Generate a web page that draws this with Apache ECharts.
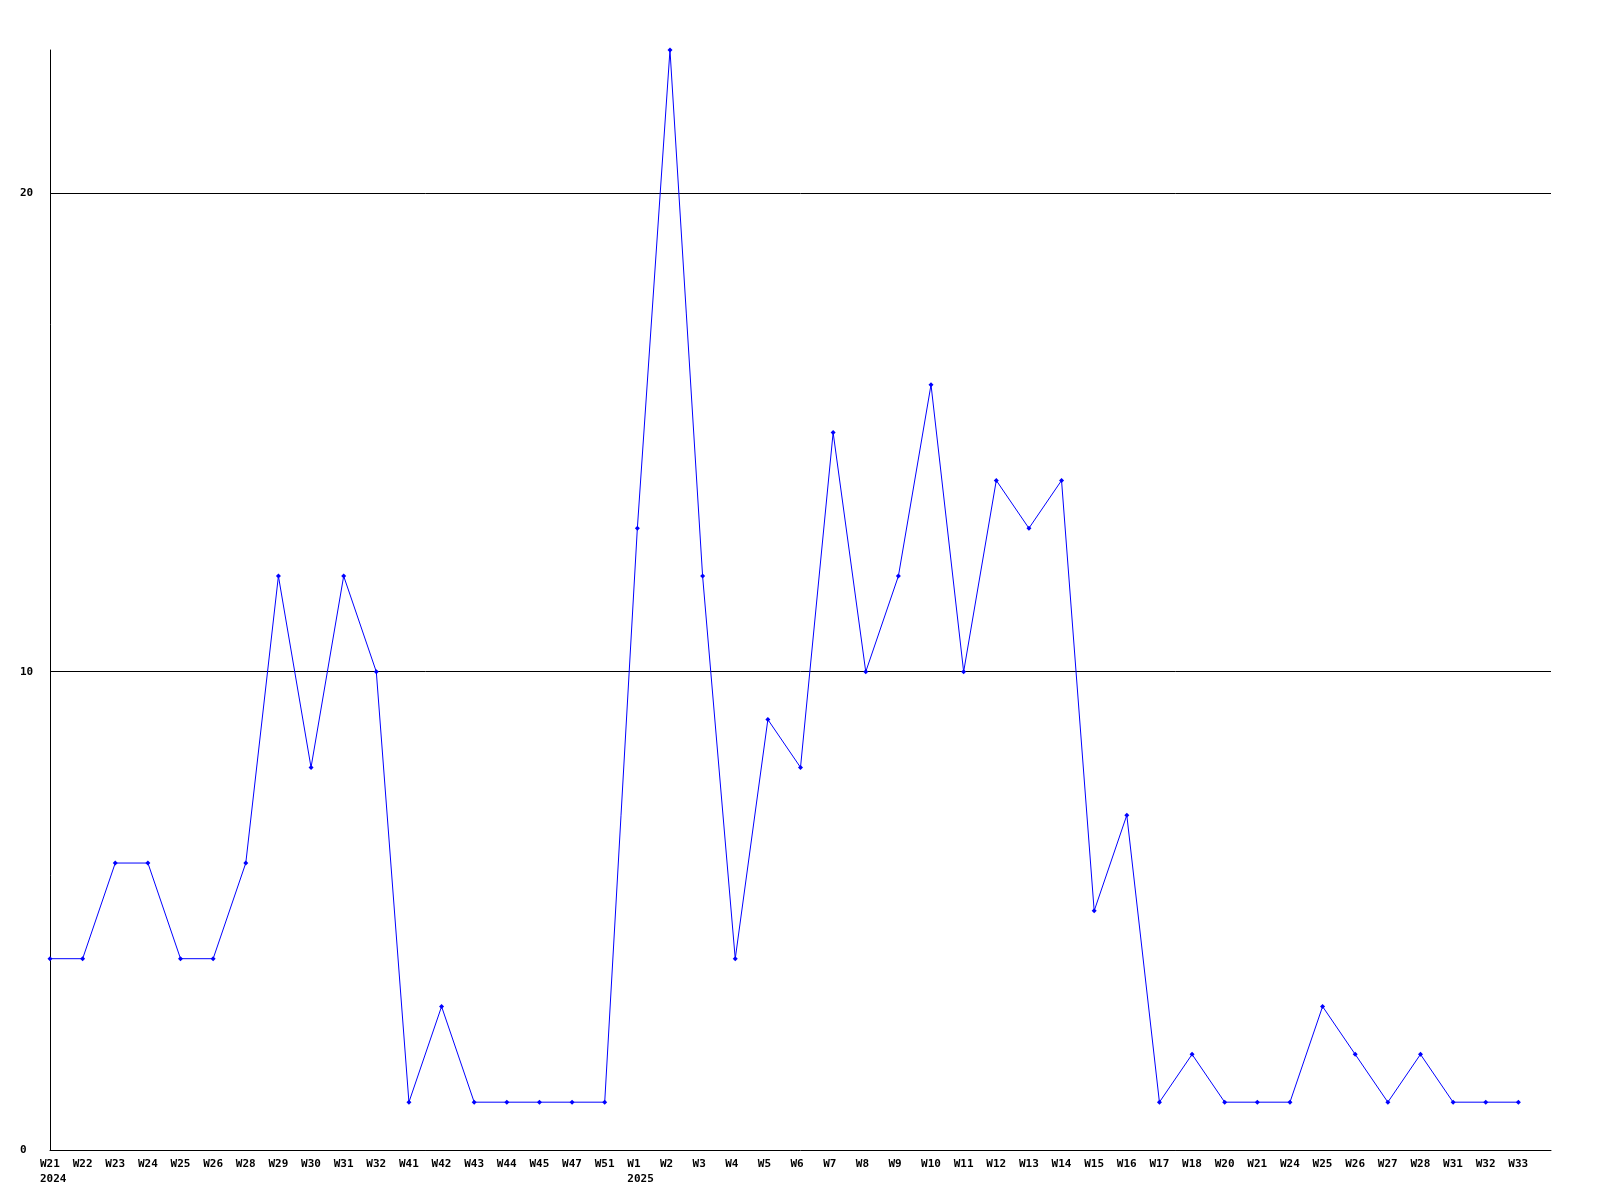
<!DOCTYPE html>
<html><head><meta charset="utf-8">
<script src="https://cdn.jsdelivr.net/npm/echarts@6/dist/echarts.min.js"></script>
<style>html,body{margin:0;padding:0;background:#fff}#c{width:1600px;height:1200px}</style>
</head><body><div id="c"></div>
<script>
const weeks = ['W21','W22','W23','W24','W25','W26','W28','W29','W30','W31','W32','W41','W42','W43','W44','W45','W47','W51','W1','W2','W3','W4','W5','W6','W7','W8','W9','W10','W11','W12','W13','W14','W15','W16','W17','W18','W20','W21','W24','W25','W26','W27','W28','W31','W32','W33',''];
const years = ['2024','','','','','','','','','','','','','','','','','','2025','','','','','','','','','','','','','','','','','','','','','','','','','','','',''];
const counts = [4,4,6,6,4,4,6,12,8,12,10,1,3,1,1,1,1,1,13,23,12,4,9,8,15,10,12,16,10,14,13,14,5,7,1,2,1,1,1,3,2,1,2,1,1,1];
const yTicks = [0,10,20];

const chart = echarts.init(document.getElementById('c'));
const font = '"DejaVu Sans Mono", "Liberation Mono", monospace';
chart.setOption({
  animation:false,
  grid:{left:50,right:49,top:50,bottom:50,containLabel:false},
  xAxis:{
    type:'category', boundaryGap:false,
    data:weeks.map((w,i)=>({value:w+'|'+i})),
    axisLine:{lineStyle:{color:'#000',width:1}},
    axisTick:{show:false},
    splitLine:{show:false},
    axisLabel:{
      interval:0, margin:7, align:'center',
      formatter:function(v){const p=v.split('|');const i=+p[1];const w=p[0];if(!w)return '';return years[i]?('{a|'+w+'}\n{a|'+years[i]+'}'):('{a|'+w+'}');},
      rich:{a:{width:20,align:'left',fontFamily:font,fontWeight:'bold',fontSize:11,color:'#000',lineHeight:15}}
    }
  },
  yAxis:{
    type:'value', min:0, max:23, interval:10,
    axisLine:{show:true,lineStyle:{color:'#000',width:1}},
    axisTick:{show:false},
    splitLine:{show:true,showMinLine:false,showMaxLine:false,lineStyle:{color:'#000',width:1}},
    axisLabel:{
      margin:30, align:'left', showMaxLabel:false,
      fontFamily:font,fontWeight:'bold',fontSize:11,color:'#000',
      formatter:function(v){return yTicks.indexOf(v)>=0?String(v):'';}
    }
  },
  series:[{
    type:'line', data:counts,
    symbol:'diamond', symbolSize:5, showSymbol:true,
    lineStyle:{color:'#0000ff',width:1},
    itemStyle:{color:'#0000ff'}
  }]
});
</script></body></html>
